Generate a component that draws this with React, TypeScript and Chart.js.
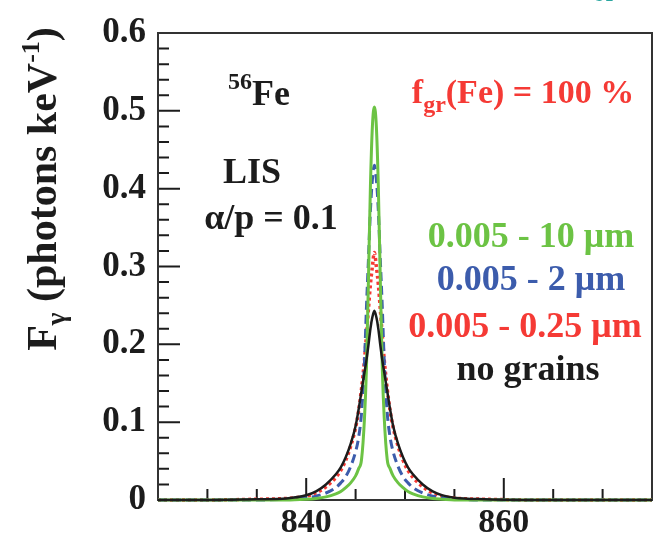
import React, { useEffect, useRef } from "react";
import { Chart, registerables } from "chart.js";

Chart.register(...registerables);

// Photon energy grid (keV), denser around the 846.8 keV line
const energy = [
  825, 830, 835, 838, 840, 841, 842, 843, 843.5, 844, 844.5, 845, 845.3, 845.6, 845.9,
  846.1, 846.3, 846.5, 846.7, 846.9, 847.1, 847.3, 847.5, 847.7, 847.9, 848.2, 848.5,
  848.8, 849.3, 849.8, 850.3, 850.8, 851.8, 852.8, 853.8, 855, 858, 865, 875,
];

// Line flux F_gamma (photons keV^-1) for each grain size distribution
const noGrains = [
  0, 0, 0.001, 0.002, 0.006, 0.011, 0.02, 0.033, 0.042, 0.055, 0.072, 0.095, 0.116, 0.14,
  0.164, 0.18, 0.199, 0.22, 0.235, 0.243, 0.235, 0.22, 0.199, 0.18, 0.164, 0.14, 0.116,
  0.095, 0.072, 0.055, 0.042, 0.033, 0.02, 0.011, 0.006, 0.003, 0.001, 0, 0,
];
const grains025 = [
  0, 0, 0.001, 0.002, 0.005, 0.009, 0.017, 0.029, 0.038, 0.051, 0.069, 0.093, 0.114, 0.143,
  0.18, 0.212, 0.245, 0.277, 0.3, 0.318, 0.3, 0.277, 0.245, 0.212, 0.18, 0.143, 0.114,
  0.093, 0.069, 0.051, 0.038, 0.029, 0.017, 0.009, 0.005, 0.0025, 0.001, 0, 0,
];
const grains2 = [
  0, 0, 0, 0.001, 0.003, 0.005, 0.009, 0.016, 0.022, 0.03, 0.043, 0.062, 0.08, 0.112,
  0.178, 0.248, 0.309, 0.372, 0.412, 0.43, 0.412, 0.372, 0.309, 0.248, 0.178, 0.112, 0.08,
  0.062, 0.043, 0.03, 0.022, 0.016, 0.009, 0.005, 0.003, 0.0015, 0, 0, 0,
];
const grains10 = [
  0, 0, 0, 0, 0.001, 0.002, 0.004, 0.008, 0.011, 0.016, 0.022, 0.031, 0.04, 0.052, 0.105,
  0.17, 0.283, 0.403, 0.48, 0.505, 0.48, 0.403, 0.283, 0.17, 0.105, 0.052, 0.04, 0.031,
  0.022, 0.016, 0.011, 0.008, 0.004, 0.002, 0.001, 0, 0, 0, 0,
];

// Axis ticks
const xTicks = [840, 860];
const xMinorTicks = [830, 835, 845, 850, 855, 865, 870];
const yTicks = [0, 0.1, 0.2, 0.3, 0.4, 0.5, 0.6];
const yMinorTicks = [
  0.02, 0.04, 0.06, 0.08, 0.12, 0.14, 0.16, 0.18, 0.22, 0.24, 0.26, 0.28, 0.32, 0.34, 0.36,
  0.38, 0.42, 0.44, 0.46, 0.48, 0.52, 0.54, 0.56, 0.58,
];

const SERIF = '"Liberation Serif", "Times New Roman", serif';
const GREEN = "#6cc344";
const BLUE = "#3c5cac";
const RED = "#f53a35";
const INK = "#1c1c1c";

type Run = { text: string; size: number; dy?: number };

function drawRuns(
  ctx: CanvasRenderingContext2D,
  runs: Run[],
  x: number,
  baseline: number,
  color: string,
  align: "left" | "center" = "center"
) {
  ctx.save();
  ctx.fillStyle = color;
  ctx.textBaseline = "alphabetic";
  ctx.textAlign = "left";
  const widths = runs.map((r) => {
    ctx.font = `bold ${r.size}px ${SERIF}`;
    return ctx.measureText(r.text).width;
  });
  const total = widths.reduce((a, b) => a + b, 0);
  let cx = align === "center" ? x - total / 2 : x;
  runs.forEach((r, i) => {
    ctx.font = `bold ${r.size}px ${SERIF}`;
    ctx.fillText(r.text, cx, baseline + (r.dy || 0));
    cx += widths[i];
  });
  ctx.restore();
}

const framePlugin = {
  id: "frameTicks",
  beforeDatasetsDraw(chart: any) {
    const { ctx, chartArea: a } = chart;
    const xs = chart.scales.x;
    const ys = chart.scales.y;
    ctx.save();
    ctx.strokeStyle = INK;
    ctx.lineWidth = 2;
    ctx.beginPath();
    for (const v of yTicks) {
      const p = ys.getPixelForValue(v);
      ctx.moveTo(a.left, p);
      ctx.lineTo(a.left + 22, p);
    }
    for (const v of yMinorTicks) {
      const p = ys.getPixelForValue(v);
      ctx.moveTo(a.left, p);
      ctx.lineTo(a.left + 11, p);
    }
    for (const v of xTicks) {
      const p = xs.getPixelForValue(v);
      ctx.moveTo(p, a.bottom);
      ctx.lineTo(p, a.bottom - 22);
    }
    for (const v of xMinorTicks) {
      const p = xs.getPixelForValue(v);
      ctx.moveTo(p, a.bottom);
      ctx.lineTo(p, a.bottom - 11);
    }
    ctx.stroke();
    ctx.strokeStyle = "#333";
    ctx.lineWidth = 2;
    ctx.strokeRect(a.left, a.top, a.right - a.left, a.bottom - a.top);
    ctx.restore();
  },
  afterDraw(chart: any) {
    const ctx: CanvasRenderingContext2D = chart.ctx;

    // y axis title, rotated
    ctx.save();
    ctx.translate(56, 189);
    ctx.rotate(-Math.PI / 2);
    drawRuns(
      ctx,
      [
        { text: "F", size: 42 },
        { text: "γ", size: 27, dy: 9 },
        { text: " (photons keV", size: 42 },
        { text: "-1", size: 26, dy: -17 },
        { text: ")", size: 42 },
      ],
      0,
      0,
      INK
    );
    ctx.restore();

    // partial teal glyph at the top edge
    drawRuns(ctx, [{ text: "α", size: 40 }], 602, 1, "#2aa6a0");

    drawRuns(
      ctx,
      [
        { text: "56", size: 24, dy: -16 },
        { text: "Fe", size: 36 },
      ],
      228,
      105,
      INK,
      "left"
    );
    drawRuns(ctx, [{ text: "LIS", size: 36 }], 252, 183, INK);
    drawRuns(ctx, [{ text: "α/p = 0.1", size: 36 }], 271, 229, INK);

    drawRuns(
      ctx,
      [
        { text: "f", size: 34 },
        { text: "gr", size: 24, dy: 9 },
        { text: "(Fe) = 100 %", size: 34 },
      ],
      523,
      103,
      RED
    );
    drawRuns(ctx, [{ text: "0.005 - 10 μm", size: 36 }], 531, 247, GREEN);
    drawRuns(ctx, [{ text: "0.005 - 2 μm", size: 36 }], 531, 290, BLUE);
    drawRuns(ctx, [{ text: "0.005 - 0.25 μm", size: 36 }], 525, 337, RED);
    drawRuns(ctx, [{ text: "no grains", size: 36 }], 528, 380, INK);
  },
};

function series(values: number[]) {
  return energy.map((e, i) => ({ x: e, y: values[i] }));
}

export default function App() {
  const canvasRef = useRef<HTMLCanvasElement | null>(null);

  useEffect(() => {
    const canvas = canvasRef.current;
    if (!canvas) return;
    const common = {
      pointRadius: 0,
      fill: false,
      cubicInterpolationMode: "monotone" as const,
      clip: 4,
    };
    const chart = new Chart(canvas, {
      type: "line",
      data: {
        datasets: [
          { ...common, label: "no grains", data: series(noGrains), borderColor: INK, borderWidth: 2.5 },
          { ...common, label: "0.005 - 10 μm", data: series(grains10), borderColor: GREEN, borderWidth: 3 },
          {
            ...common,
            label: "0.005 - 2 μm",
            data: series(grains2),
            borderColor: BLUE,
            borderWidth: 3,
            borderDash: [9, 5],
          },
          {
            ...common,
            label: "0.005 - 0.25 μm",
            data: series(grains025),
            borderColor: RED,
            borderWidth: 3.5,
            borderDash: [3, 3],
          },
        ],
      },
      options: {
        responsive: false,
        animation: false,
        devicePixelRatio: 1,
        layout: { padding: { top: 23, right: 1, left: 0, bottom: 0 } },
        plugins: { legend: { display: false }, tooltip: { enabled: false } },
        scales: {
          x: {
            type: "linear",
            min: 825,
            max: 875,
            grid: { display: false, drawTicks: false },
            border: { display: false },
            afterBuildTicks: (s: any) => {
              s.ticks = xTicks.map((v) => ({ value: v }));
            },
            afterFit: (s: any) => {
              s.height = 41;
            },
            ticks: {
              padding: 3,
              color: INK,
              font: { family: SERIF, weight: "bold", size: 34 },
              callback: (v: any) => String(v),
            },
          },
          y: {
            type: "linear",
            min: 0,
            max: 0.6,
            grid: { display: false, drawTicks: false },
            border: { display: false },
            afterBuildTicks: (s: any) => {
              s.ticks = yTicks.map((v) => ({ value: v }));
            },
            afterFit: (s: any) => {
              s.width = 158;
            },
            ticks: {
              padding: 12,
              color: INK,
              font: { family: SERIF, weight: "bold", size: 35 },
              callback: (v: any) => (Number(v) === 0 ? "0" : Number(v).toFixed(1)),
            },
          },
        },
      },
      plugins: [framePlugin],
    } as any);
    return () => chart.destroy();
  }, []);

  return (
    <div
      style={{
        position: "fixed",
        left: 0,
        top: 0,
        width: 653,
        height: 541,
        background: "#fff",
        overflow: "hidden",
      }}
    >
      <canvas ref={canvasRef} width={653} height={541} style={{ display: "block" }} />
    </div>
  );
}
